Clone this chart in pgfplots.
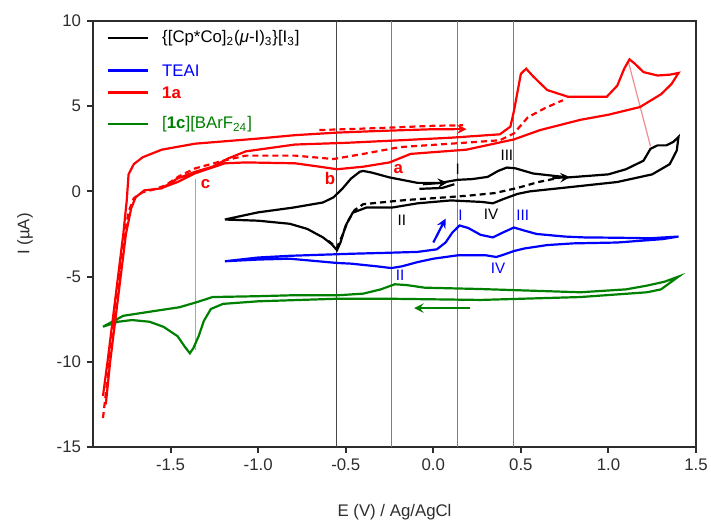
\documentclass[border=0pt]{standalone}
\usepackage{pgfplots}
\pgfplotsset{compat=1.18}
\usepackage{fontspec}
\setmainfont{Liberation Sans}
\definecolor{cblue}{RGB}{0,0,255}
\definecolor{cred}{RGB}{255,0,0}
\definecolor{cgreen}{RGB}{0,128,0}
\definecolor{vblue}{RGB}{110,110,245}
\definecolor{vblack}{RGB}{70,70,70}
\definecolor{axgray}{RGB}{45,45,45}
\definecolor{lred}{RGB}{240,140,140}
\definecolor{lgreen}{RGB}{120,200,120}
\begin{document}
\fontsize{8.4}{10}\selectfont
\begin{tikzpicture}
\path[use as bounding box] (-46.5pt,-40.5pt) rectangle (309pt,223.5pt);
\begin{axis}[
  at={(0,0)}, anchor=south west,
  width=301.5pt, height=213pt, scale only axis,
  xmin=-1.943, xmax=1.5, ymin=-15, ymax=10,
  xtick={-1.5,-1,-0.5,0,0.5,1,1.5},
  ytick={-15,-10,-5,0,5,10},
  xtick pos=lower, ytick pos=left,
  tick align=outside, major tick length=3pt,
  axis line style={axgray, line width=1pt},
  tick style={axgray, line width=1pt},
  /pgf/number format/assume math mode=true,
  xticklabel style={/pgf/number format/.cd, fixed, fixed zerofill, precision=1},
  tick label style={font=\fontsize{8.4}{10}\selectfont, text=axgray},
  label style={font=\fontsize{8.4}{10}\selectfont, text=axgray},
  xlabel={E (V) / Ag/AgCl},
  ylabel={I (µA)},
  xlabel style={at={(axis description cs:0.5,0)}, anchor=center, yshift=-32.5pt},
  ylabel style={at={(axis description cs:0,0.5)}, anchor=center, yshift=34pt},
  clip=true,
]
% reference vertical lines
\addplot[vblack, line width=0.5pt] coordinates {(-0.55,-15) (-0.55,10)};
\addplot[vblue, line width=0.5pt] coordinates {(-0.24,-15) (-0.24,10)};
\addplot[vblue, line width=0.5pt] coordinates {(0.14,-15) (0.14,10)};
\addplot[vblue, line width=0.5pt] coordinates {(0.46,-15) (0.46,10)};
\addplot[lgreen, line width=0.6pt] coordinates {(-1.36,0.75) (-1.36,-9.3)};
\addplot[lred, line width=0.6pt] coordinates {(1.114,7.6) (1.24,2.65)};

% green [1c][BArF24]
\addplot[cgreen, line width=1.1pt] coordinates {
(-1.886,-7.94) (-1.77,-7.3) (-1.58,-7.0) (-1.45,-6.8) (-1.35,-6.5) (-1.26,-6.2)
(-1.0,-6.15) (-0.82,-6.1) (-0.55,-6.1) (-0.40,-6.0) (-0.30,-5.75) (-0.22,-5.45)
(-0.15,-5.5) (-0.05,-5.65) (0.27,-5.73) (0.84,-5.92) (1.10,-5.75) (1.22,-5.53)
(1.32,-5.3) (1.40,-5.0) (1.30,-5.75) (1.22,-5.92) (0.84,-6.2) (0.27,-6.37)
(-0.25,-6.3) (-0.55,-6.3) (-1.0,-6.45) (-1.20,-6.6) (-1.27,-6.9) (-1.31,-7.6)
(-1.34,-8.5) (-1.37,-9.2) (-1.39,-9.5) (-1.42,-9.1) (-1.46,-8.5) (-1.54,-7.95)
(-1.62,-7.65) (-1.72,-7.55) (-1.80,-7.65) (-1.886,-7.94)};
\addplot[cgreen, line width=1.1pt, -stealth] coordinates {(0.21,-6.85) (-0.11,-6.85)};

% blue TEAI
\addplot[cblue, line width=1.1pt] coordinates {
(-1.19,-4.1) (-1.00,-3.88) (-0.82,-3.78) (-0.47,-3.66) (-0.25,-3.6) (-0.09,-3.55)
(0.02,-3.4) (0.07,-3.0) (0.11,-2.4) (0.15,-2.0) (0.20,-2.15) (0.27,-2.55)
(0.34,-2.7) (0.40,-2.4) (0.46,-2.12) (0.52,-2.3) (0.59,-2.5) (0.75,-2.65)
(0.86,-2.7) (1.05,-2.72) (1.24,-2.75) (1.40,-2.65) (1.31,-2.8) (1.05,-3.0)
(0.80,-3.05) (0.65,-3.15) (0.52,-3.35) (0.46,-3.5) (0.40,-3.72) (0.36,-3.85)
(0.30,-3.75) (0.14,-3.75) (0.00,-3.95) (-0.09,-4.15) (-0.18,-4.4) (-0.24,-4.5)
(-0.32,-4.4) (-0.47,-4.24) (-0.55,-4.2) (-0.82,-3.95) (-1.00,-4.0) (-1.19,-4.1)};
\addplot[cblue, line width=1.1pt, -stealth] coordinates {(0.0,-3.0) (0.07,-1.6)};

% black {[Cp*Co]2(mu-I)3}[I3]
\addplot[black, line width=1.1pt] coordinates {
(-1.19,-1.65) (-1.10,-1.45) (-1.00,-1.23) (-0.80,-0.95) (-0.63,-0.65) (-0.57,-0.35)
(-0.52,0.15) (-0.47,0.75) (-0.42,1.15) (-0.40,1.2) (-0.35,1.1) (-0.25,0.82)
(-0.09,0.5) (0.04,0.5) (0.14,0.68) (0.22,0.72) (0.31,0.85) (0.37,1.2)
(0.42,1.4) (0.47,1.35) (0.57,1.05) (0.77,0.82) (1.00,1.0) (1.10,1.3)
(1.20,1.8) (1.24,2.5) (1.28,2.7) (1.33,2.7) (1.37,2.9) (1.40,3.2)
(1.39,2.4) (1.35,1.6) (1.25,1.0) (1.05,0.55) (0.77,0.24) (0.55,0.0)
(0.48,-0.15) (0.40,-0.45) (0.34,-0.70) (0.28,-0.62) (0.10,-0.53) (-0.09,-0.70)
(-0.23,-0.94) (-0.38,-0.94) (-0.46,-1.25) (-0.50,-2.0) (-0.53,-3.0) (-0.55,-3.45)
(-0.58,-3.1) (-0.63,-2.7) (-0.72,-2.2) (-0.82,-1.9) (-1.00,-1.72) (-1.19,-1.65)};
\addplot[black, line width=1.1pt] coordinates {(-0.08,0.15) (0.05,0.2) (0.12,0.42)};
\addplot[black, line width=1.1pt, dash pattern=on 3pt off 2pt] coordinates {
(-0.60,-2.9) (-0.55,-3.3) (-0.52,-2.6) (-0.49,-1.8) (-0.45,-1.1) (-0.40,-0.75)
(-0.30,-0.65) (-0.15,-0.5) (0.0,-0.4) (0.2,-0.25) (0.35,-0.1) (0.48,0.2)
(0.6,0.55) (0.72,0.8)};
\addplot[black, line width=1.1pt, -stealth] coordinates {(0.68,0.78) (0.78,0.84)};
\addplot[black, line width=1.1pt, -stealth] coordinates {(-0.06,0.42) (0.08,0.52)};

% red 1a
\addplot[cred, line width=1.1pt] coordinates {
(-1.886,-12.0) (-1.86,-10.0) (-1.83,-7.5) (-1.80,-5.0) (-1.77,-2.5) (-1.75,-0.5)
(-1.74,1.0) (-1.71,1.6) (-1.66,2.0) (-1.55,2.45) (-1.36,2.8) (-1.0,3.1)
(-0.79,3.3) (-0.55,3.45) (-0.3,3.55) (0.0,3.65) (0.12,3.65)};
\addplot[cred, line width=1.1pt, -stealth] coordinates {(0.06,3.65) (0.19,3.65)};
\addplot[cred, line width=1.1pt] coordinates {
(-1.87,-12.5) (-1.845,-10) (-1.815,-7.5) (-1.785,-5) (-1.755,-2.5) (-1.725,-1.0)
(-1.70,-0.35) (-1.65,0.06) (-1.55,0.18) (-1.46,0.76) (-1.36,1.15) (-1.26,1.45)
(-1.17,1.94) (-1.07,2.35) (-0.79,2.75) (-0.5,2.85) (-0.19,3.0) (0.1,3.15)
(0.38,3.35) (0.44,3.8) (0.46,4.7) (0.48,5.8) (0.50,6.9) (0.53,7.2)
(0.57,6.75) (0.65,5.95) (0.77,5.55) (0.99,5.55) (1.05,6.2) (1.09,7.2)
(1.12,7.75) (1.15,7.5) (1.20,7.0) (1.28,6.8) (1.35,6.85) (1.40,6.95)
(1.36,6.3) (1.30,5.7) (1.18,4.95) (1.0,4.5) (0.84,4.2) (0.61,3.6)
(0.46,3.05) (0.19,2.45) (-0.13,2.2) (-0.19,1.95) (-0.25,1.7) (-0.40,1.45)
(-0.55,1.3) (-0.65,1.45) (-0.79,1.65) (-1.07,1.7) (-1.19,1.65) (-1.36,1.06)
(-1.46,0.55) (-1.55,0.2)};
\addplot[cred, line width=1.1pt, dash pattern=on 3pt off 2pt] coordinates {
(-1.886,-13.3) (-1.86,-11) (-1.83,-8) (-1.80,-5.5) (-1.77,-3) (-1.74,-1.2)
(-1.71,-0.4) (-1.66,-0.05) (-1.60,0.1) (-1.53,0.35) (-1.45,0.9) (-1.36,1.35)
(-1.2,1.8) (-1.07,2.1) (-0.79,2.1) (-0.57,1.9) (-0.40,2.2) (-0.19,2.6)
(0.1,2.8) (0.38,3.0) (0.46,3.4) (0.54,4.35) (0.64,4.9) (0.74,5.35)};
\addplot[cred, line width=1.1pt, dash pattern=on 3pt off 2pt] coordinates {
(-0.65,3.6) (-0.3,3.72) (0.0,3.85) (0.17,3.88)};

% peak labels
\begin{scope}[font=\fontsize{7.6}{9}\selectfont]
\node[black] at (axis cs:0.14,1.3) {I};
\node[black] at (axis cs:0.42,2.1) {III};
\node[black] at (axis cs:-0.18,-1.7) {II};
\node[black] at (axis cs:0.33,-1.35) {IV};
\node[cblue] at (axis cs:0.155,-1.4) {I};
\node[cblue] at (axis cs:0.51,-1.4) {III};
\node[cblue] at (axis cs:0.37,-4.5) {IV};
\node[cblue] at (axis cs:-0.19,-4.95) {II};
\end{scope}
\node[cred, font=\bfseries\fontsize{8.4}{10}\selectfont] at (axis cs:-0.2,1.3) {a};
\node[cred, font=\bfseries\fontsize{8.4}{10}\selectfont] at (axis cs:-0.59,0.75) {b};
\node[cred, font=\bfseries\fontsize{8.4}{10}\selectfont] at (axis cs:-1.3,0.45) {c};

% legend
\draw[black, line width=1.1pt] (axis cs:-1.86,9.0) -- (axis cs:-1.63,9.0);
\node[anchor=west, black, inner sep=0pt] at (axis cs:-1.55,9.0) {\{[Cp*Co]\textsubscript{2}(\textit{μ}-I)\textsubscript{3}\}[I\textsubscript{3}]};
\draw[cblue, line width=1.1pt] (axis cs:-1.86,7.1) -- (axis cs:-1.63,7.1);
\node[anchor=west, cblue, inner sep=0pt] at (axis cs:-1.55,7.1) {TEAI};
\draw[cred, line width=1.1pt] (axis cs:-1.86,5.8) -- (axis cs:-1.63,5.8);
\node[anchor=west, cred, inner sep=0pt] at (axis cs:-1.55,5.8) {\textbf{1a}};
\draw[cgreen, line width=1.1pt] (axis cs:-1.86,3.95) -- (axis cs:-1.63,3.95);
\node[anchor=west, cgreen, inner sep=0pt] at (axis cs:-1.55,3.95) {[\textbf{1c}][BArF\textsubscript{24}]};
\end{axis}
\end{tikzpicture}
\end{document}
